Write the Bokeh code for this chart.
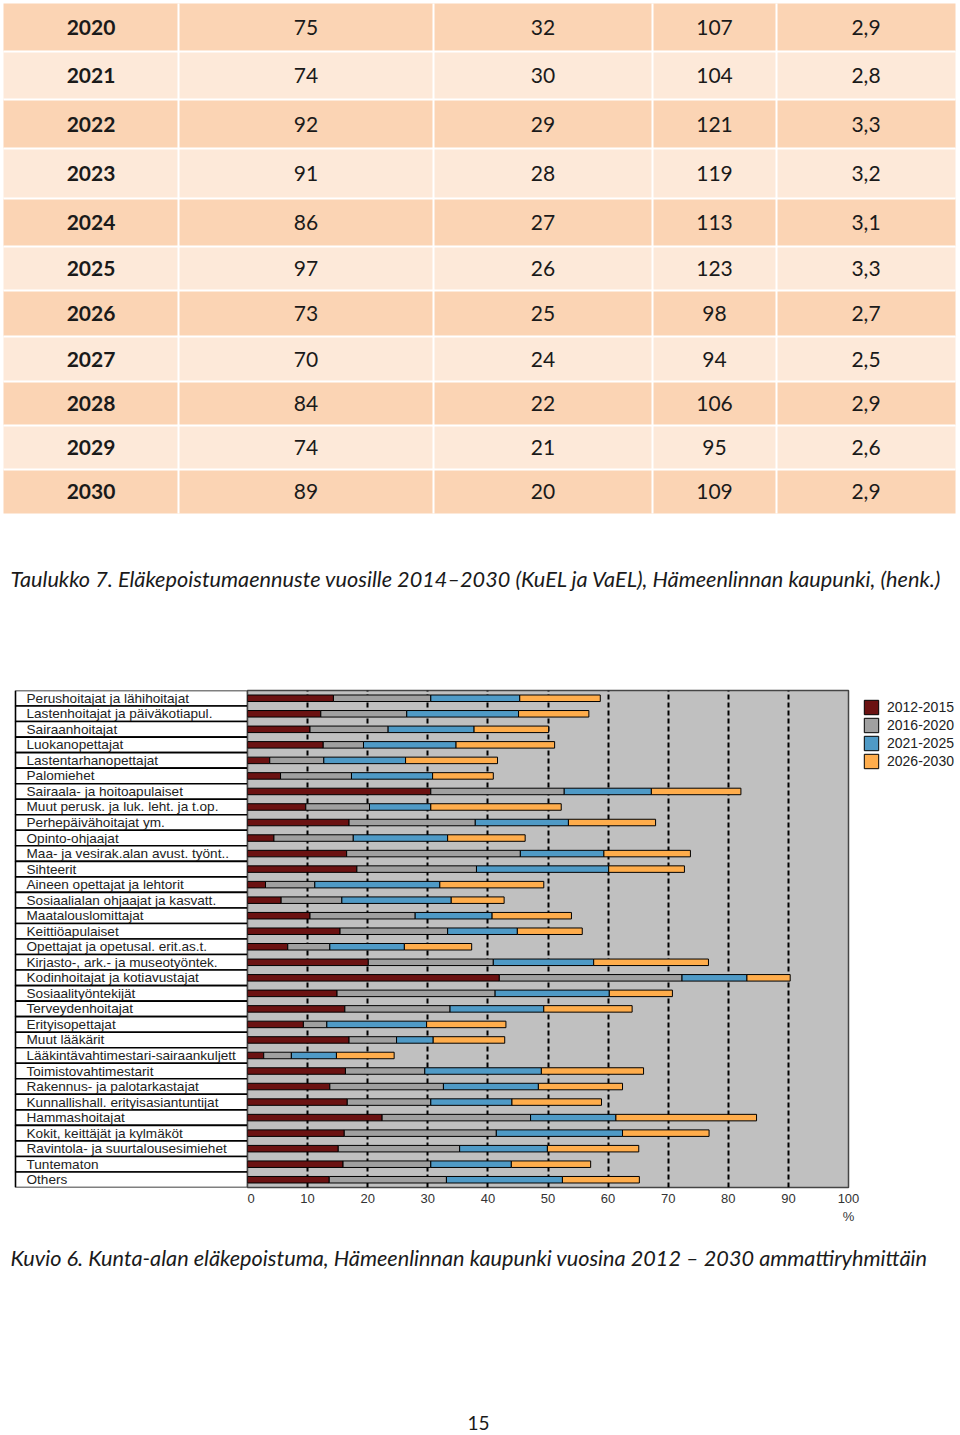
from bokeh.plotting import figure
from bokeh.layouts import column, row
from bokeh.models import (Range1d, FactorRange, ColumnDataSource, FixedTicker,
                          Legend, LegendItem)
from bokeh.core.properties import value
from bokeh.embed import file_html
from bokeh.resources import INLINE

# ---------------- table data ----------------
years = ["2020", "2021", "2022", "2023", "2024", "2025", "2026", "2027", "2028", "2029", "2030"]
col_a = [75, 74, 92, 91, 86, 97, 73, 70, 84, 74, 89]
col_b = [32, 30, 29, 28, 27, 26, 25, 24, 22, 21, 20]
col_c = [107, 104, 121, 119, 113, 123, 98, 94, 106, 95, 109]
col_d = ["2,9", "2,8", "3,3", "3,2", "3,1", "3,3", "2,7", "2,5", "2,9", "2,6", "2,9"]

caption_table = "Taulukko 7. Eläkepoistumaennuste vuosille 2014–2030 (KuEL ja VaEL), Hämeenlinnan kaupunki, (henk.)"
caption_chart = "Kuvio 6. Kunta-alan eläkepoistuma, Hämeenlinnan kaupunki vuosina 2012 – 2030 ammattiryhmittäin"
page_number = "15"

# ---------------- chart data ----------------
categories = [
    "Perushoitajat ja lähihoitajat", "Lastenhoitajat ja päiväkotiapul.", "Sairaanhoitajat",
    "Luokanopettajat", "Lastentarhanopettajat", "Palomiehet", "Sairaala- ja hoitoapulaiset",
    "Muut perusk. ja luk. leht. ja t.op.", "Perhepäivähoitajat ym.", "Opinto-ohjaajat",
    "Maa- ja vesirak.alan avust. työnt..", "Sihteerit", "Aineen opettajat ja lehtorit",
    "Sosiaalialan ohjaajat ja kasvatt.", "Maatalouslomittajat", "Keittiöapulaiset",
    "Opettajat ja opetusal. erit.as.t.", "Kirjasto-, ark.- ja museotyöntek.",
    "Kodinhoitajat ja kotiavustajat", "Sosiaalityöntekijät", "Terveydenhoitajat",
    "Erityisopettajat", "Muut lääkärit", "Lääkintävahtimestari-sairaankuljett",
    "Toimistovahtimestarit", "Rakennus- ja palotarkastajat", "Kunnallishall. erityisasiantuntijat",
    "Hammashoitajat", "Kokit, keittäjät ja kylmäköt", "Ravintola- ja suurtalousesimiehet",
    "Tuntematon", "Others",
]
periods = ["2012-2015", "2016-2020", "2021-2025", "2026-2030"]
p2012_2015 = [14.3, 12.2, 10.4, 12.6, 3.7, 5.5, 30.5, 9.7, 16.9, 4.4, 16.5, 18.2, 3.0, 5.6, 10.4, 15.4,
              6.7, 20.1, 41.9, 14.9, 16.2, 9.3, 16.9, 2.7, 16.3, 13.7, 16.6, 22.4, 16.1, 15.1, 15.9, 13.6]
p2016_2020 = [16.2, 14.3, 13.0, 6.7, 9.0, 11.8, 22.2, 10.6, 21.0, 13.2, 28.9, 19.9, 8.2, 10.1, 17.5, 17.9,
              7.0, 20.8, 30.4, 26.3, 17.5, 3.9, 7.9, 4.6, 13.2, 18.9, 13.9, 24.7, 25.3, 20.2, 14.6, 19.5]
p2021_2025 = [14.8, 18.6, 14.3, 15.4, 13.6, 13.5, 14.5, 10.2, 15.5, 15.7, 13.9, 22.0, 20.8, 18.2, 12.8, 11.6,
              12.4, 16.7, 10.8, 19.0, 15.6, 16.6, 6.1, 7.5, 19.4, 15.8, 13.5, 14.2, 21.0, 14.6, 13.4, 19.3]
p2026_2030 = [13.4, 11.7, 12.4, 16.4, 15.3, 10.1, 14.9, 21.7, 14.5, 12.9, 14.4, 12.6, 17.3, 8.8, 13.2, 10.8,
              11.2, 19.1, 7.2, 10.5, 14.7, 13.2, 11.9, 9.6, 17.0, 14.0, 14.9, 23.4, 14.4, 15.2, 13.2, 12.8]
x_ticks = [0, 10, 20, 30, 40, 50, 60, 70, 80, 90, 100]
grid_ticks = [10, 20, 30, 40, 50, 60, 70, 80, 90]

period_colors = ["#6B1212", "#A0A0A0", "#4F9AC6", "#FFAD4C"]

TXT = "#1a1a1a"
BODY = value("Lato")
ARIAL = value("Liberation Sans")
W = 960

# ---------------- top: table + caption ----------------
TOP_H = 688
top = figure(width=W, height=TOP_H, x_range=Range1d(0, W), y_range=Range1d(TOP_H, 0),
             output_backend="svg", toolbar_location=None, min_border=0,
             x_axis_location=None, y_axis_location=None)
top.outline_line_color = None
top.grid.visible = False

row_edges = [3, 51, 99, 148, 198, 246, 290, 336, 381, 425, 469, 513]
col_edges = [3, 178, 433, 652, 776, 955]
col_centers = [(col_edges[i] + col_edges[i + 1]) / 2 for i in range(5)]
fills = ["#FBD4B4" if i % 2 == 0 else "#FDE9D9" for i in range(len(years))]
mids = [(row_edges[i] + row_edges[i + 1]) / 2 for i in range(len(years))]

top.quad(left=col_edges[0], right=col_edges[-1], top=row_edges[:-1], bottom=row_edges[1:],
         fill_color=fills, line_color=None)
top.segment(x0=col_edges[0], x1=col_edges[-1], y0=row_edges[1:-1], y1=row_edges[1:-1],
            line_color="white", line_width=2)
top.segment(x0=col_edges[1:-1], x1=col_edges[1:-1], y0=row_edges[0], y1=row_edges[-1],
            line_color="white", line_width=2)

top.text(x=col_centers[0], y=mids, text=years, text_font=BODY, text_font_style="bold",
         text_font_size="21px", text_align="center", text_baseline="middle", text_color=TXT)
for cx, vals in zip(col_centers[1:], [col_a, col_b, col_c, col_d]):
    top.text(x=cx, y=mids, text=[str(v) for v in vals], text_font=BODY,
             text_font_size="21px", text_align="center", text_baseline="middle", text_color=TXT)

top.text(x=[10], y=[578], text=[caption_table], text_font=BODY, text_font_style="italic",
         text_font_size="21.7px", text_align="left", text_baseline="middle", text_color=TXT)

# ---------------- chart: labels box ----------------
rev_cats = list(reversed(categories))
CH_H = 542
LAB_W = 247
lab = figure(width=LAB_W, height=CH_H, x_range=Range1d(0, LAB_W), y_range=FactorRange(*rev_cats),
             output_backend="svg", toolbar_location=None, min_border=0,
             x_axis_location=None, y_axis_location=None)
lab.min_border_top = 2
lab.min_border_bottom = 43
lab.outline_line_color = None
lab.grid.visible = False
lab.rect(x=131, y=categories, width=232, height=1, fill_color="white",
         line_color="black", line_width=1.6)
lab.text(x=26, y=categories, text=categories, text_font=ARIAL, text_font_size="13.6px",
         text_align="left", text_baseline="middle", text_color="#222222")

# ---------------- chart: bars ----------------
src = ColumnDataSource(dict(cat=categories, **{
    periods[0]: p2012_2015, periods[1]: p2016_2020,
    periods[2]: p2021_2025, periods[3]: p2026_2030}))

FRAME_W = 601
BARS_W = FRAME_W + 12
FRAME_H = CH_H - 2 - 43
bars = figure(width=BARS_W, height=CH_H, x_range=Range1d(0, 100), y_range=FactorRange(*rev_cats),
              output_backend="svg", toolbar_location=None, y_axis_location=None)
bars.min_border_left = 0
bars.min_border_top = 2
bars.min_border_bottom = 43
bars.min_border_right = BARS_W - FRAME_W
bars.background_fill_color = "#C0C0C0"
bars.outline_line_color = "#454545"
bars.outline_line_width = 1.5

bars.hbar_stack(periods, y="cat", height=0.42, color=period_colors,
                line_color="black", line_width=1, source=src)

bars.ygrid.grid_line_color = None
bars.xgrid.ticker = FixedTicker(ticks=grid_ticks)
bars.xgrid.grid_line_color = "black"
bars.xgrid.grid_line_width = 2
bars.xgrid.grid_line_dash = "5 3"

ax = bars.xaxis[0]
ax.ticker = FixedTicker(ticks=x_ticks)
ax.axis_line_color = None
ax.major_tick_line_color = None
ax.minor_tick_line_color = None
ax.major_tick_out = 0
ax.major_tick_in = 0
ax.major_label_standoff = 3
ax.major_label_text_font = "Liberation Sans"
ax.major_label_text_font_size = "13px"
ax.major_label_text_color = "#333333"
ax.major_label_overrides = {100: "100\n%"}

# ---------------- chart: legend panel (same stack, outside its view; only the legend shows) ----------------
LEG_W = W - LAB_W - BARS_W
leg = figure(width=LEG_W, height=CH_H, x_range=Range1d(-2, -1), y_range=FactorRange(*rev_cats),
             output_backend="svg", toolbar_location=None, min_border=0,
             x_axis_location=None, y_axis_location=None)
leg.min_border_top = 2
leg.min_border_bottom = 43
leg.outline_line_color = None
leg.grid.visible = False
leg_renderers = leg.hbar_stack(periods, y="cat", height=0.42, color=period_colors,
                               line_color="black", line_width=1, source=src)
legend = Legend(items=[LegendItem(label=per, renderers=[r]) for per, r in zip(periods, leg_renderers)],
                location=(2, FRAME_H - 8 - 72), glyph_width=18, glyph_height=18, spacing=0,
                label_standoff=7, label_text_font="Liberation Sans", label_text_font_size="14px",
                label_text_color="#222222", padding=0, margin=0,
                border_line_color=None, background_fill_alpha=0)
leg.add_layout(legend)

# ---------------- bottom: caption + page number ----------------
BOT_H = 1435 - TOP_H - CH_H
bot = figure(width=W, height=BOT_H, x_range=Range1d(0, W), y_range=Range1d(BOT_H, 0),
             output_backend="svg", toolbar_location=None, min_border=0,
             x_axis_location=None, y_axis_location=None)
bot.outline_line_color = None
bot.grid.visible = False
bot.text(x=[10], y=[1257 - TOP_H - CH_H], text=[caption_chart], text_font=BODY, text_font_style="italic",
         text_font_size="21.7px", text_align="left", text_baseline="middle", text_color=TXT)
bot.text(x=[478], y=[1422 - TOP_H - CH_H], text=[page_number], text_font=BODY,
         text_font_size="19px", text_align="center", text_baseline="middle", text_color=TXT)

page = column(top, row(lab, bars, leg), bot)
open("out.html", "w").write(file_html(page, INLINE))
